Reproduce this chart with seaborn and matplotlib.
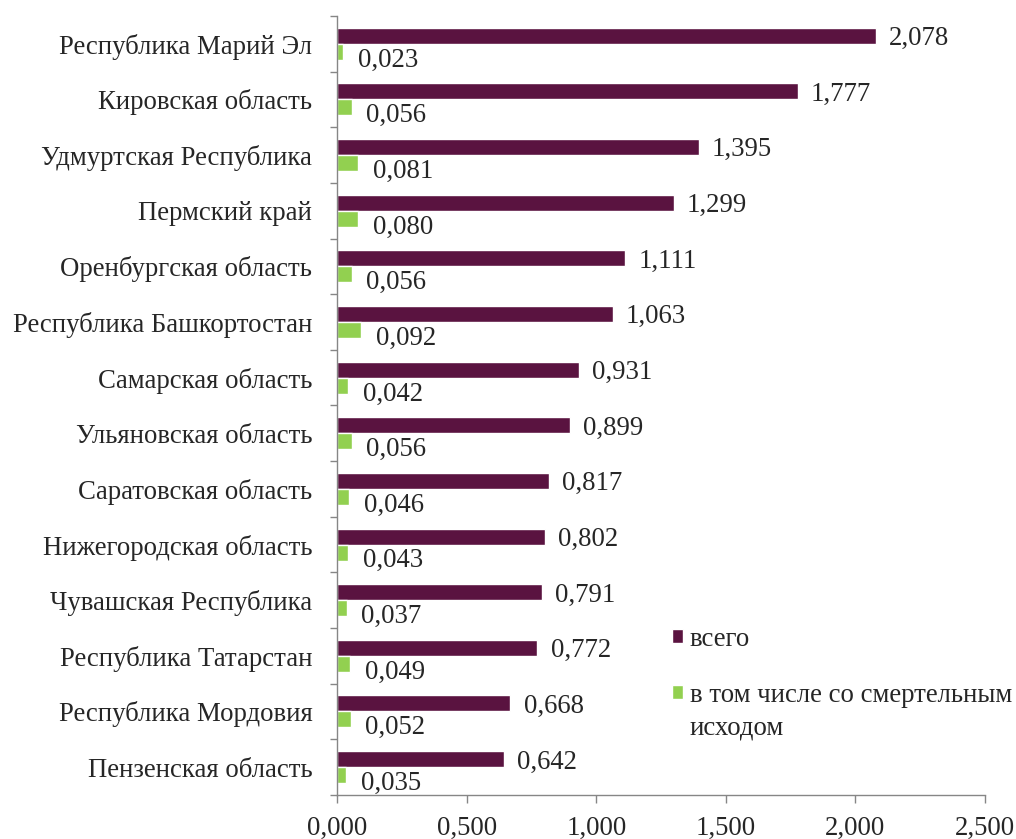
import matplotlib
matplotlib.use("Agg")
import matplotlib.pyplot as plt
import seaborn as sns
import pandas as pd
from matplotlib.ticker import MultipleLocator, FixedLocator, FuncFormatter

regions = [
    "Республика Марий Эл", "Кировская область", "Удмуртская Республика",
    "Пермский край", "Оренбургская область", "Республика Башкортостан",
    "Самарская область", "Ульяновская область", "Саратовская область",
    "Нижегородская область", "Чувашская Республика", "Республика Татарстан",
    "Республика Мордовия", "Пензенская область",
]
total = [2.078, 1.777, 1.395, 1.299, 1.111, 1.063, 0.931, 0.899, 0.817,
         0.802, 0.791, 0.772, 0.668, 0.642]
fatal = [0.023, 0.056, 0.081, 0.080, 0.056, 0.092, 0.042, 0.056, 0.046,
         0.043, 0.037, 0.049, 0.052, 0.035]
series_names = ["всего", "в том числе со смертельным исходом"]
legend_lines = [["всего"], ["в том числе со смертельным", "исходом"]]
colors = ["#5A1340", "#92D050"]

df = pd.DataFrame({
    "region": regions * 2,
    "value": total + fatal,
    "series": [series_names[0]] * len(regions) + [series_names[1]] * len(regions),
})

sns.set_style("white")
plt.rcParams["font.family"] = ["Liberation Serif", "DejaVu Serif"]
FS = 19.3
plt.rcParams["font.size"] = FS

fig = plt.figure(figsize=(10.16, 8.39), dpi=100)
ax = fig.add_axes([0.332, 0.0525, 0.6375, 0.9285])

sns.barplot(data=df, y="region", x="value", hue="series", order=regions,
            hue_order=series_names, palette=colors, orient="h", width=0.575,
            saturation=1, ax=ax, legend=True, errorbar=None)

ax.set_xlim(0, 2.5)
ax.set_ylim(len(regions) - 0.5, -0.5)
ax.xaxis.set_major_locator(MultipleLocator(0.5))
ax.xaxis.set_major_formatter(FuncFormatter(lambda v, p: f"{v:.3f}".replace(".", ",")))
ax.set_xlabel("")
ax.set_ylabel("")

# category ticks at boundaries
ax.yaxis.set_minor_locator(FixedLocator([i - 0.5 for i in range(len(regions) + 1)]))
ax.tick_params(axis="y", which="major", length=0, pad=18, labelsize=FS)
ax.tick_params(axis="y", which="minor", length=5, width=1, color="#868686", direction="out", left=True)
ax.tick_params(axis="x", which="major", length=6, width=1, color="#868686", direction="out",
               bottom=True, pad=9, labelsize=FS)

for s in ["top", "right"]:
    ax.spines[s].set_visible(False)
for s in ["left", "bottom"]:
    ax.spines[s].set_color("#868686")
    ax.spines[s].set_linewidth(1)

# value labels
for ci, cont in enumerate(ax.containers):
    for patch in cont.patches:
        w = patch.get_width()
        yc = patch.get_y() + patch.get_height() / 2
        txt = f"{w:.3f}".replace(".", ",")
        if ci == 0:
            ax.annotate(txt, (w, yc), xytext=(9.5, -2), textcoords="offset points",
                        va="center", ha="left", fontsize=FS)
        else:
            ax.annotate(txt, (w, yc), xytext=(10.5, -6), textcoords="offset points",
                        va="center", ha="left", fontsize=FS)

leg = ax.get_legend()
handles = leg.legend_handles
leg.remove()
newleg = fig.legend(handles, [l[0] for l in legend_lines], loc="upper left",
                    bbox_to_anchor=(0.6614, 0.2527), frameon=False, fontsize=FS,
                    handlelength=0.42, handleheight=0.42, handletextpad=0.25,
                    labelspacing=1.15, borderpad=0, borderaxespad=0)

fig.canvas.draw()
renderer = fig.canvas.get_renderer()
t = newleg.get_texts()[1]
bb = t.get_window_extent(renderer)
inv = fig.transFigure.inverted()
x0, y0 = inv.transform((bb.x0, bb.y0 - 33))
fig.text(x0, y0, "\n".join(legend_lines[1][1:]), ha="left", va="bottom", fontsize=FS)

fig.savefig("out.png", dpi=100)
